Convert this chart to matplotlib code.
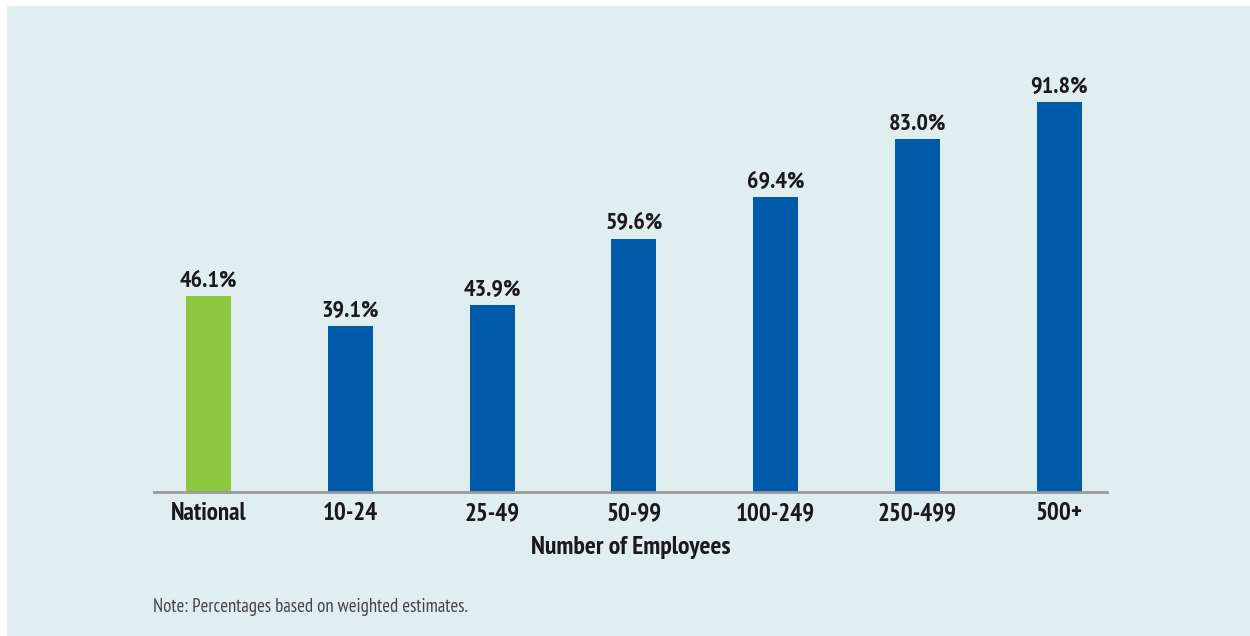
import matplotlib.pyplot as plt
import numpy as np

# Share of establishments by size
categories = ["National", "10-24", "25-49", "50-99", "100-249", "250-499", "500+"]
values = [46.1, 39.1, 43.9, 59.6, 69.4, 83.0, 91.8]
colors = ["#8dc63f"] + ["#005aa9"] * 6

bg = "#e0eef0"
font = ["PT Sans Narrow", "Fira Sans Condensed", "DejaVu Sans"]
txt = dict(family=font, fontstretch="condensed", color="#1a1a1a")

fig = plt.figure(figsize=(12.5, 6.36), dpi=100)
fig.patch.set_facecolor("white")
# shaded panel behind the chart
fig.patches.append(plt.Rectangle((7 / 1250, 0), 1 - 7 / 1250, 1 - 6 / 636,
                                 transform=fig.transFigure, facecolor=bg,
                                 edgecolor="none", zorder=-1))

ax = fig.add_axes([154 / 1250, 144 / 636, 953 / 1250, 425 / 636])
ax.set_facecolor("none")

x = np.arange(len(categories))
ax.bar(x, values, width=0.317, color=colors, zorder=2)
for xi, v in zip(x, values):
    ax.text(xi, v + 1.0, "%.1f%%" % v, ha="center", va="bottom",
            fontsize=17.5, fontweight="bold", **txt)

ax.set_xlim(-0.384, 6.336)
ax.set_ylim(0, 100)
for s in ["top", "right", "left"]:
    ax.spines[s].set_visible(False)
ax.spines["bottom"].set_color("#9a9a9a")
ax.spines["bottom"].set_linewidth(2)
ax.set_yticks([])
ax.set_xticks(x)
ax.set_xticklabels(categories, fontsize=18, fontweight="bold", **txt)
ax.tick_params(axis="x", length=0, pad=7)
ax.set_xlabel("Number of Employees", fontsize=18.5, fontweight="bold",
              labelpad=8, **txt)

fig.text(153 / 1250, 1 - 607 / 636, "Note: Percentages based on weighted estimates.",
         fontsize=13.5, va="center", family=font, fontstretch="condensed",
         color="#444444")

fig.savefig("out.png", dpi=100)
